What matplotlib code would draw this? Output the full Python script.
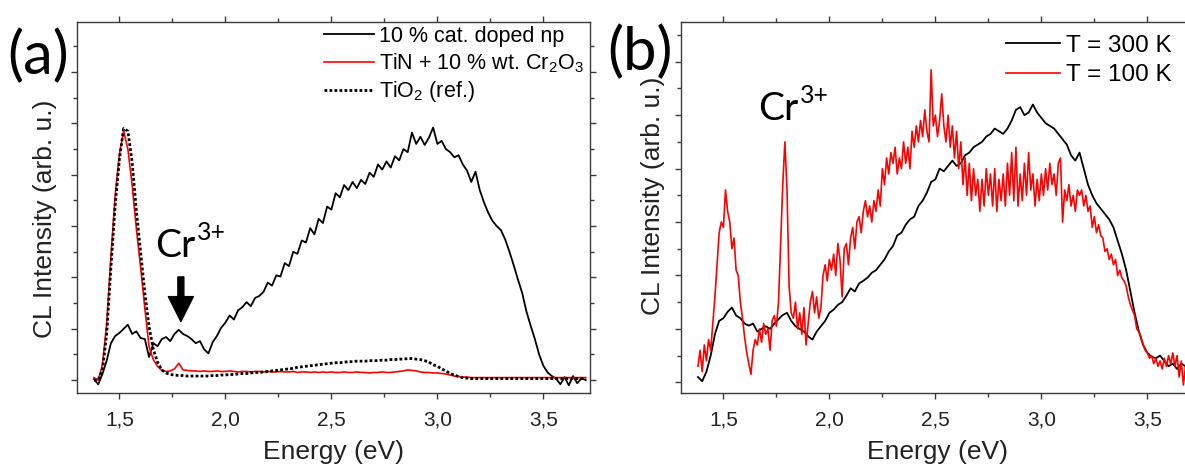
import numpy as np
import matplotlib
matplotlib.use("Agg")
import matplotlib.pyplot as plt
from matplotlib.ticker import MultipleLocator, FuncFormatter

# energy grids (eV): 0.02 eV steps for most traces, 0.01 eV for the noisy 100 K one
E_START, E_STOP = 1.38, 3.70

# panel (a) – intensities (arb. u.)
doped_np = [
    0.02, -0.08, 0.12, 0.38, 0.72, 0.86, 0.92, 1.00, 1.08, 0.90,
    0.95, 0.82, 0.80, 0.45, 0.72, 0.66, 0.80, 0.84, 0.76, 0.90,
    0.98, 0.90, 0.86, 0.80, 0.72, 0.76, 0.60, 0.52, 0.74, 0.86,
    1.02, 1.12, 1.26, 1.18, 1.36, 1.42, 1.52, 1.44, 1.60, 1.64,
    1.72, 1.90, 1.84, 2.04, 2.02, 2.28, 2.22, 2.50, 2.46, 2.72,
    2.68, 2.96, 2.84, 3.14, 3.06, 3.38, 3.32, 3.64, 3.56, 3.80,
    3.70, 3.86, 3.74, 3.90, 3.82, 4.04, 3.96, 4.20, 4.10, 4.26,
    4.14, 4.36, 4.28, 4.50, 4.44, 4.82, 4.60, 4.74, 4.58, 4.72,
    4.92, 4.60, 4.66, 4.50, 4.44, 4.34, 4.38, 4.20, 4.08, 3.86,
    4.06, 3.70, 3.46, 3.26, 3.10, 3.00, 2.92, 2.74, 2.50, 2.24,
    1.96, 1.70, 1.34, 1.06, 0.80, 0.50, 0.28, 0.15, 0.08, 0.03,
    -0.08, 0.06, -0.10, 0.08, -0.06, 0.04, 0.00,
]
tin_cr2o3 = [
    0.05, 0.00, 0.30, 1.10, 2.40, 3.60, 4.40, 4.85, 4.50, 3.80,
    2.95, 2.20, 1.40, 0.65, 0.40, 0.27, 0.19, 0.17, 0.18, 0.22,
    0.33, 0.20, 0.19, 0.18, 0.18, 0.17, 0.18, 0.17, 0.17, 0.18,
    0.17, 0.17, 0.18, 0.17, 0.16, 0.17, 0.17, 0.16, 0.17, 0.17,
    0.16, 0.17, 0.16, 0.16, 0.17, 0.16, 0.16, 0.17, 0.15, 0.16,
    0.16, 0.15, 0.16, 0.15, 0.16, 0.15, 0.16, 0.15, 0.15, 0.16,
    0.15, 0.15, 0.16, 0.15, 0.15, 0.14, 0.15, 0.15, 0.16, 0.15,
    0.15, 0.16, 0.17, 0.18, 0.20, 0.19, 0.18, 0.16, 0.15, 0.15,
    0.14, 0.14, 0.13, 0.12, 0.10, 0.08, 0.07, 0.06, 0.06, 0.05,
    0.05, 0.05, 0.05, 0.05, 0.05, 0.05, 0.05, 0.05, 0.05, 0.05,
    0.05, 0.05, 0.05, 0.05, 0.05, 0.05, 0.05, 0.05, 0.05, 0.05,
    0.05, 0.05, 0.05, 0.05, 0.05, 0.05, 0.05,
]
tio2_ref = [
    0.00, 0.00, 0.20, 0.90, 2.20, 3.40, 4.30, 4.90, 4.85, 4.25,
    3.30, 2.50, 1.70, 1.04, 0.60, 0.35, 0.20, 0.14, 0.11, 0.10,
    0.09, 0.09, 0.08, 0.08, 0.08, 0.08, 0.08, 0.08, 0.09, 0.09,
    0.10, 0.10, 0.11, 0.11, 0.12, 0.13, 0.13, 0.14, 0.15, 0.15,
    0.16, 0.17, 0.18, 0.19, 0.20, 0.21, 0.22, 0.23, 0.25, 0.26,
    0.27, 0.28, 0.29, 0.30, 0.31, 0.32, 0.33, 0.34, 0.34, 0.35,
    0.36, 0.36, 0.37, 0.37, 0.37, 0.38, 0.38, 0.38, 0.39, 0.39,
    0.40, 0.40, 0.41, 0.41, 0.42, 0.42, 0.41, 0.40, 0.38, 0.35,
    0.30, 0.27, 0.22, 0.18, 0.13, 0.10, 0.07, 0.05, 0.04, 0.03,
    0.03, 0.03, 0.03, 0.03, 0.03, 0.03, 0.03, 0.03, 0.03, 0.03,
    0.03, 0.03, 0.03, 0.03, 0.03, 0.03, 0.03, 0.03, 0.03, 0.03,
    0.03, 0.03, 0.03, 0.03, 0.03, 0.03, 0.03,
]

# panel (b)
t300k = [
    0.10, 0.02, 0.20, 0.50, 0.90, 1.15, 1.20, 1.32, 1.40, 1.25,
    1.20, 1.10, 1.06, 1.10, 0.95, 1.00, 1.05, 1.00, 1.10, 1.18,
    1.26, 1.30, 1.15, 1.05, 1.00, 0.95, 0.86, 0.80, 0.95, 1.05,
    1.15, 1.30, 1.36, 1.45, 1.50, 1.62, 1.76, 1.70, 1.85, 1.90,
    1.96, 2.05, 2.10, 2.20, 2.30, 2.45, 2.55, 2.75, 2.80, 2.95,
    3.05, 3.10, 3.30, 3.40, 3.55, 3.75, 3.80, 4.00, 3.95, 4.05,
    4.15, 4.05, 4.10, 4.25, 4.30, 4.40, 4.45, 4.50, 4.60, 4.65,
    4.75, 4.70, 4.65, 4.75, 4.90, 5.10, 5.15, 5.00, 5.05, 5.20,
    5.05, 4.95, 4.85, 4.80, 4.75, 4.65, 4.55, 4.45, 4.25, 4.15,
    4.30, 4.00, 3.70, 3.50, 3.35, 3.25, 3.15, 3.05, 2.90, 2.65,
    2.40, 2.10, 1.70, 1.30, 0.95, 0.70, 0.55, 0.48, 0.45, 0.50,
    0.40, 0.30, 0.35, 0.25, 0.35, 0.30, 0.25,
]
t100k = [
    0.30, 0.60, 0.20, 0.70, 0.40, 0.80, 0.60, 1.10, 1.60, 2.20,
    2.80, 3.00, 2.90, 3.60, 3.20, 3.00, 2.50, 2.70, 2.10, 2.00,
    1.50, 1.20, 0.85, 0.55, 0.35, 0.15, 0.60, 0.80, 0.70, 1.00,
    0.75, 1.10, 0.90, 1.00, 0.60, 1.15, 1.25, 1.05, 1.50, 2.60,
    3.70, 4.50, 3.60, 1.80, 1.30, 1.20, 1.50, 1.00, 1.30, 0.90,
    1.40, 0.70, 1.10, 1.50, 1.70, 1.30, 1.60, 1.20, 1.40, 2.00,
    2.20, 1.90, 2.30, 2.10, 2.40, 2.00, 2.60, 2.30, 1.60, 2.50,
    2.60, 2.20, 2.70, 2.90, 2.50, 3.00, 3.10, 2.80, 3.20, 3.40,
    3.10, 3.30, 3.00, 3.40, 3.20, 3.60, 3.30, 4.00, 3.70, 4.20,
    3.90, 4.30, 4.10, 4.40, 3.90, 4.20, 4.00, 4.50, 4.10, 4.40,
    4.00, 4.70, 4.40, 4.80, 4.50, 4.90, 4.60, 5.10, 4.70, 4.50,
    5.85, 4.80, 5.00, 4.60, 4.90, 5.40, 4.80, 4.50, 5.00, 4.40,
    4.80, 4.20, 4.70, 4.00, 4.50, 3.70, 4.20, 3.50, 4.10, 3.40,
    4.00, 3.50, 3.80, 3.20, 3.80, 3.30, 4.00, 3.50, 3.90, 3.30,
    4.00, 3.20, 3.80, 3.40, 3.90, 3.30, 4.10, 3.50, 4.30, 3.40,
    4.40, 3.30, 3.90, 3.40, 4.10, 3.50, 4.30, 3.60, 3.90, 3.30,
    3.80, 3.40, 3.90, 3.50, 4.00, 3.60, 4.10, 3.70, 3.90, 3.50,
    4.10, 4.20, 3.00, 3.60, 3.40, 3.70, 3.30, 3.50, 3.20, 3.60,
    3.50, 3.60, 3.30, 3.50, 3.20, 3.30, 2.90, 3.10, 2.80, 2.95,
    2.75, 2.70, 2.45, 2.50, 2.30, 2.40, 2.20, 2.30, 2.00, 2.10,
    1.95, 1.90, 1.80, 1.60, 1.45, 1.35, 1.25, 1.00, 0.95, 0.85,
    0.70, 0.60, 0.55, 0.45, 0.50, 0.35, 0.45, 0.30, 0.40, 0.25,
    0.45, 0.30, 0.50, 0.35, 0.55, 0.30, 0.50, 0.10, 0.40, -0.05,
    0.30, -0.10, 0.20,
]

labels_a = [
    "10 % cat. doped np",
    "TiN + 10 % wt. Cr$_2$O$_3$",
    "TiO$_2$ (ref.)",
]
labels_b = ["T = 300 K", "T = 100 K"]

plt.rcParams["font.family"] = ["Liberation Sans", "DejaVu Sans"]
plt.rcParams["mathtext.default"] = "regular"

SPINE = "#3a3a3a"
RED = "#ff0000"


def energy(values):
    return np.linspace(E_START, E_STOP, len(values))


def style_axes(ax, ylim):
    ax.set_xlim(1.3, 3.72)
    ax.set_ylim(*ylim)
    ax.xaxis.set_major_locator(MultipleLocator(0.5))
    ax.xaxis.set_minor_locator(MultipleLocator(0.25))
    ax.yaxis.set_major_locator(MultipleLocator(1))
    ax.yaxis.set_minor_locator(MultipleLocator(0.5))
    ax.xaxis.set_major_formatter(
        FuncFormatter(lambda v, _: f"{v:.1f}".replace(".", ","))
    )
    ax.tick_params(which="both", direction="out", top=True, right=True,
                   labelleft=False, color=SPINE, width=1.0)
    ax.tick_params(which="major", length=4.5, labelsize=15, pad=8,
                   labelcolor="#222222")
    ax.tick_params(which="minor", length=2.6)
    for sp in ax.spines.values():
        sp.set_color(SPINE)
        sp.set_linewidth(1.0)
    ax.set_xlabel("Energy (eV)", fontsize=19, color="#222222", labelpad=8)
    ax.set_ylabel("CL Intensity (arb. u.)", fontsize=19, color="#222222")


def cr_label(ax, x, y, size=28):
    # "Cr" plus a raised "3+" (mathtext would space the plus sign)
    t = ax.text(x, y, "Cr", fontsize=size, family="Lato",
                va="baseline", ha="left")
    fig.canvas.draw()
    w = t.get_window_extent().width * 72 / fig.dpi
    ax.annotate("3+", xy=(x, y), xytext=(w + 1, size * 0.43),
                textcoords="offset points", fontsize=size * 0.64,
                family="Lato", va="baseline", ha="left")


fig = plt.figure(figsize=(11.85, 4.69), dpi=100)
ax_a = fig.add_axes([77 / 1185, 76 / 469, 513 / 1185, 371.3 / 469])
ax_b = fig.add_axes([681 / 1185, 76 / 469, 513 / 1185, 371.3 / 469])

# (a)
ax_a.plot(energy(doped_np), doped_np, color="black", lw=1.3, label=labels_a[0])
ax_a.plot(energy(tin_cr2o3), tin_cr2o3, color=RED, lw=1.2, label=labels_a[1])
ax_a.plot(energy(tio2_ref), tio2_ref, color="black", lw=2.0, ls=(0, (1, 0.8)),
          label=labels_a[2])
style_axes(ax_a, (-0.25, 6.98))
ax_a.yaxis.set_label_coords(-0.039, 0.47)
ax_a.legend(loc="upper left", bbox_to_anchor=(0.474, 1.0), frameon=False,
            fontsize=15.5, handlelength=2.3, handletextpad=0.25,
            labelspacing=0.2, borderaxespad=0, borderpad=0.2)
cr_label(ax_a, 1.668, 2.4)
ax_a.annotate("", xy=(1.79, 1.14), xytext=(1.79, 2.01),
              arrowprops=dict(facecolor="black", edgecolor="black",
                              width=4.3, headwidth=18, headlength=18,
                              shrink=0))

# (b)
ax_b.plot(energy(t300k), t300k, color="black", lw=1.3, label=labels_b[0])
ax_b.plot(energy(t100k), t100k, color=RED, lw=1.2, label=labels_b[1])
style_axes(ax_b, (-0.2, 6.75))
ax_b.yaxis.set_label_coords(-0.031, 0.53)
ax_b.legend(loc="upper left", bbox_to_anchor=(0.625, 0.978), frameon=False,
            fontsize=17.5, handlelength=2.2, handletextpad=0.25,
            labelspacing=0.3, borderaxespad=0, borderpad=0.2)
cr_label(ax_b, 1.663, 4.91)

fig.text(7 / 1185, 1 - 74 / 469, "(a)", fontsize=43, family="Lato",
         ha="left", va="baseline")
fig.text(607 / 1185, 1 - 70 / 469, "(b)", fontsize=43, family="Lato",
         ha="left", va="baseline")

fig.savefig("out.png", dpi=100)
